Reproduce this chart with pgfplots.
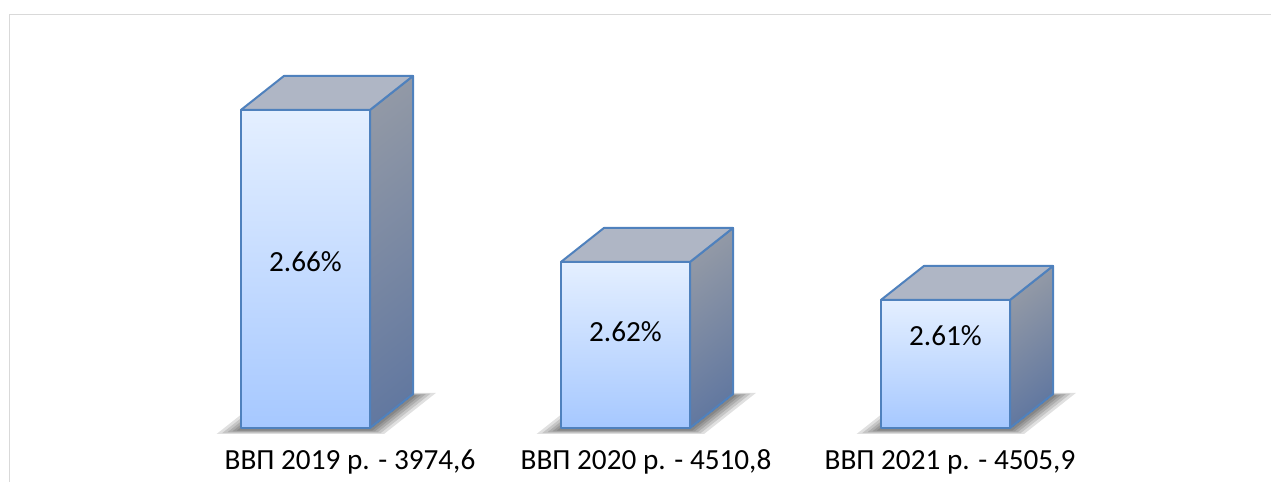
\documentclass[border=0pt]{standalone}
\usepackage{pgfplots}
\pgfplotsset{compat=1.18}
\usepackage{pgfplotstable}
\usepackage{fontspec}
\setmainfont{Carlito}

\definecolor{edgeblue}{RGB}{79,129,189}
\definecolor{framegray}{RGB}{217,217,217}

% bars: GDP share, 2019..2021 (percent); floor of the chart at 2.5763
\pgfplotstableread{
x y z c
-0.2016 0 2.5763 0
0.2016 0 2.5763 0
0.2016 0 2.66 1
-0.2016 0 2.66 1
0.7984 0 2.5763 0
1.2016 0 2.5763 0
1.2016 0 2.62 1
0.7984 0 2.62 1
1.7984 0 2.5763 0
2.2016 0 2.5763 0
2.2016 0 2.61 1
1.7984 0 2.61 1
}\frontfaces

\pgfplotstableread{
x y z c
0.2016 0 2.5763 0
0.2016 1 2.5763 0
0.2016 1 2.66 1
0.2016 0 2.66 1
1.2016 0 2.5763 0
1.2016 1 2.5763 0
1.2016 1 2.62 1
1.2016 0 2.62 1
2.2016 0 2.5763 0
2.2016 1 2.5763 0
2.2016 1 2.61 1
2.2016 0 2.61 1
}\sidefaces

\pgfplotstableread{
x y z c
-0.2016 0 2.66 1
0.2016 0 2.66 1
0.2016 1 2.66 1
-0.2016 1 2.66 1
0.7984 0 2.62 1
1.2016 0 2.62 1
1.2016 1 2.62 1
0.7984 1 2.62 1
1.7984 0 2.61 1
2.2016 0 2.61 1
2.2016 1 2.61 1
1.7984 1 2.61 1
}\topfaces

% soft shadow of one bar footprint on the floor (nested translucent layers)
\newcommand\shadowlayer[2]{%
  \fill[black, opacity=0.12] (axis cs:#1-0.2016-#2,-#2*2,2.5758) -- (axis cs:#1+0.2016+#2,-#2*2,2.5758)
    -- (axis cs:#1+0.2016+#2,1+#2*1.5,2.5758) -- (axis cs:#1-0.2016-#2,1+#2*1.5,2.5758) -- cycle;}
\newcommand\barshadow[1]{%
  \shadowlayer{#1}{0.060}\shadowlayer{#1}{0.046}\shadowlayer{#1}{0.033}%
  \shadowlayer{#1}{0.021}\shadowlayer{#1}{0.010}}

\begin{document}
\begin{tikzpicture}[lbl/.style={anchor=base, font=\fontsize{14.6}{17}\selectfont}]
\begin{axis}[
    x={(160pt,0pt)}, y={(21.5pt,17pt)}, z={(0pt,1900pt)},
    hide axis, clip=false,
    xmin=-0.95469, xmax=3.01719, ymin=0, ymax=1, zmin=2.56209, zmax=2.68893,
    point meta min=0, point meta max=1,
  ]
  % chart frame
  \draw[framegray, line width=0.8pt] (axis cs:3.06,0,2.68512) -- (axis cs:-0.925,0,2.68512) -- (axis cs:-0.925,0,2.555);

  \barshadow{0}
  \barshadow{1}
  \barshadow{2}

  \addplot3[patch, patch type=rectangle, shader=faceted interp, faceted color=edgeblue,
    line width=1pt, line join=round, point meta=explicit,
    colormap={sidemap}{rgb255=(98,120,160) rgb255=(146,153,166)}]
    table[x=x, y=y, z=z, meta=c] {\sidefaces};
  \addplot3[patch, patch type=rectangle, shader=faceted, faceted color=edgeblue,
    line width=1pt, line join=round, point meta=explicit,
    colormap={topmap}{rgb255=(175,182,197) rgb255=(175,182,197)}]
    table[x=x, y=y, z=z, meta=c] {\topfaces};
  \addplot3[patch, patch type=rectangle, shader=faceted interp, faceted color=edgeblue,
    line width=1pt, line join=round, point meta=explicit,
    colormap={frontmap}{rgb255=(166,200,255) rgb255=(228,239,255)}]
    table[x=x, y=y, z=z, meta=c] {\frontfaces};

  % value labels
  \node[lbl] at (axis cs:0,0,2.6174) {2.66\%};
  \node[lbl] at (axis cs:1,0,2.5990) {2.62\%};
  \node[lbl] at (axis cs:2,0,2.5981) {2.61\%};

  % category labels
  \node[lbl] at (axis cs:0.139,0,2.5655) {ВВП 2019 р. - 3974,6};
  \node[lbl] at (axis cs:1.064,0,2.5655) {ВВП 2020 р. - 4510,8};
  \node[lbl] at (axis cs:2.014,0,2.5655) {ВВП 2021 р. - 4505,9};

  \coordinate (BL) at (axis cs:-0.95469,0,2.56209);
  \coordinate (TR) at (axis cs:3.01719,0,2.68893);
\end{axis}
\pgfresetboundingbox
\path[use as bounding box] (BL) rectangle (TR);
\end{tikzpicture}
\end{document}
